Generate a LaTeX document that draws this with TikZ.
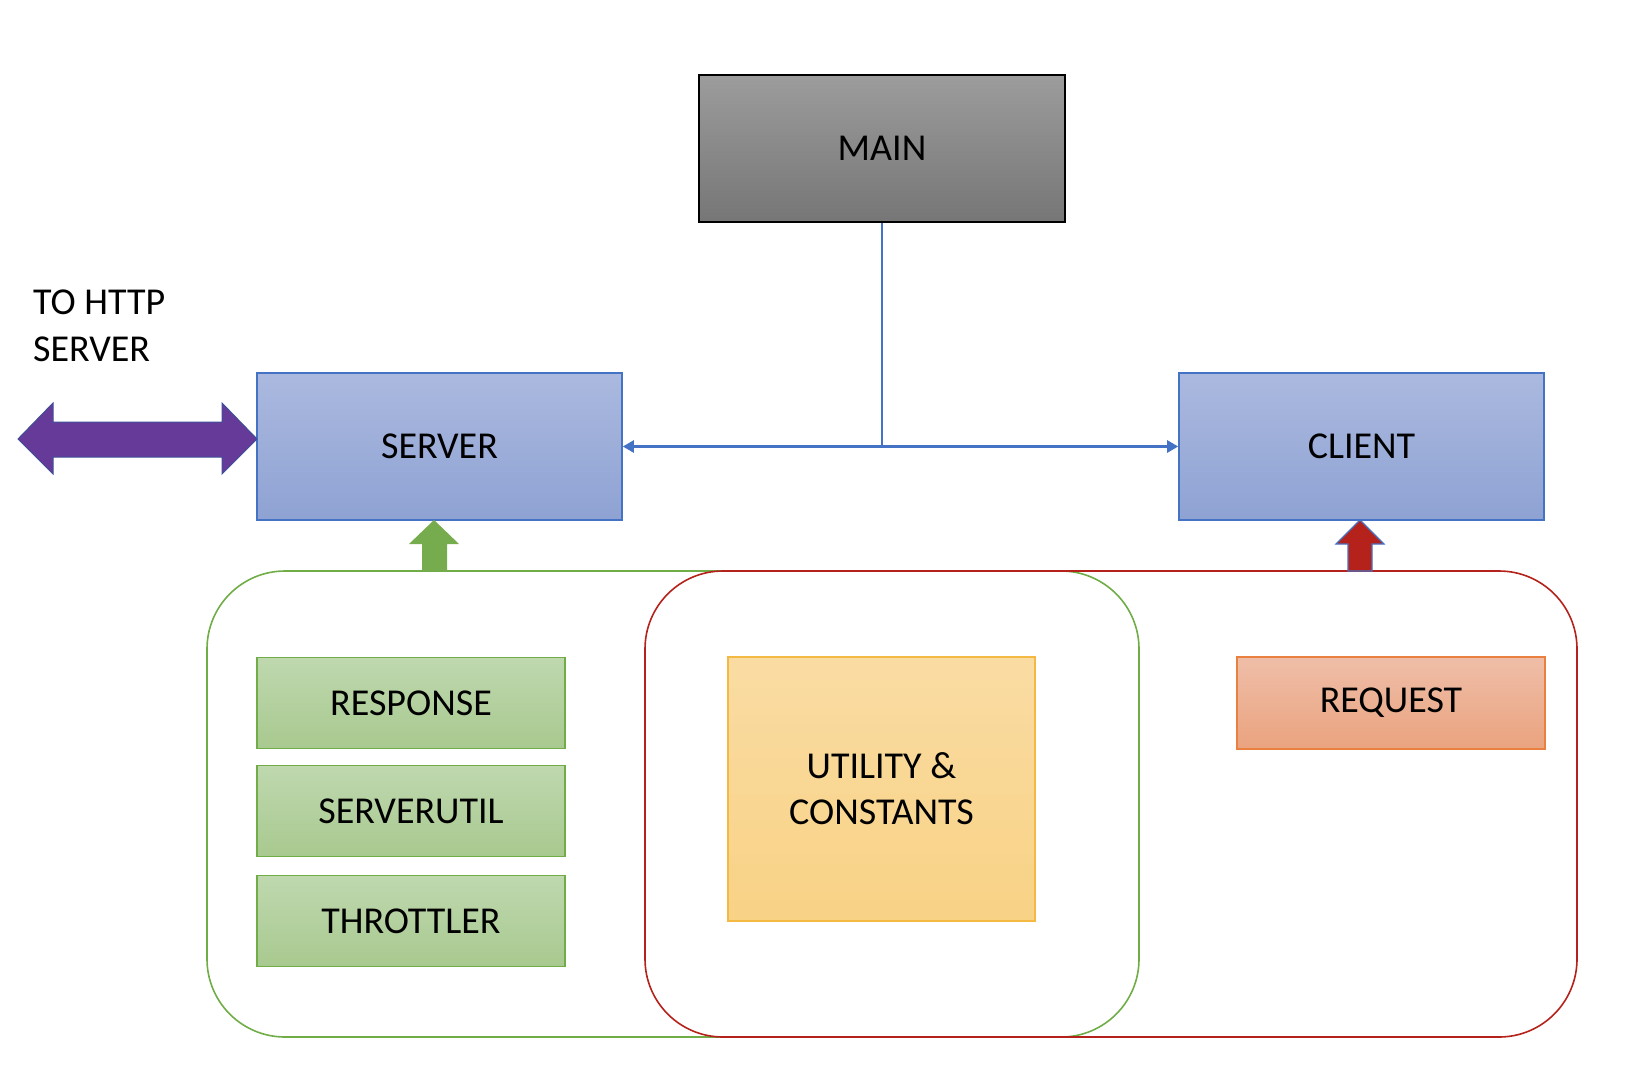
\documentclass[tikz,border=0pt]{standalone}
\usepackage{fontspec}
\setmainfont{Carlito}
\usetikzlibrary{arrows.meta}
\definecolor{bluebd}{HTML}{4472C4}
\definecolor{bluetop}{HTML}{ABB9DF}
\definecolor{bluebot}{HTML}{8EA2D3}
\definecolor{greytop}{HTML}{9C9C9C}
\definecolor{greybot}{HTML}{767676}
\definecolor{greenbd}{HTML}{70AD47}
\definecolor{greentop}{HTML}{BFD8AF}
\definecolor{greenbot}{HTML}{A8C98F}
\definecolor{yelbd}{HTML}{F4B942}
\definecolor{yeltop}{HTML}{FADCA3}
\definecolor{yelbot}{HTML}{F8D285}
\definecolor{orabd}{HTML}{E9803F}
\definecolor{oratop}{HTML}{EFBEA8}
\definecolor{orabot}{HTML}{EAA37F}
\definecolor{purp}{HTML}{663A99}
\definecolor{purpbd}{HTML}{3F4F97}
\definecolor{redbd}{HTML}{B5221B}
\definecolor{greenarr}{HTML}{76AB4E}
\begin{document}
\begin{tikzpicture}[x=1pt,y=-1pt,
  every node/.style={font=\fontsize{38}{46}\selectfont, text=black},
  box/.style={draw, line width=1.6pt, inner sep=0pt, shading angle=0},
  bluebox/.style={box, draw=bluebd, top color=bluetop, bottom color=bluebot, minimum width=365pt, minimum height=147pt},
  greenbox/.style={box, draw=greenbd, top color=greentop, bottom color=greenbot, minimum width=308pt, minimum height=91pt},
  conn/.style={draw=bluebd, line width=2.4pt},
  group/.style={line width=1.6pt, rounded corners=78pt}
]
\useasboundingbox (0,0) rectangle (1646,1066);
% group outlines
\draw[group, draw=greenbd] (207,571) rectangle (1139,1037);
\draw[group, draw=redbd] (645,571) rectangle (1577,1037);
% nodes
\node[box, draw=black, top color=greytop, bottom color=greybot, minimum width=366pt, minimum height=147pt] (main) at (882,148.5) {MAIN};
\node[bluebox] (server) at (439.5,446.5) {SERVER};
\node[bluebox] (client) at (1361.5,446.5) {CLIENT};
\node[greenbox] (response) at (411,703) {RESPONSE};
\node[greenbox] (serverutil) at (411,811) {SERVERUTIL};
\node[greenbox] (throttler) at (411,921) {THROTTLER};
\node[box, draw=yelbd, top color=yeltop, bottom color=yelbot, minimum width=307pt, minimum height=264pt, align=center] (utility) at (881.5,789) {UTILITY \&\\CONSTANTS};
\node[box, draw=orabd, top color=oratop, bottom color=orabot, minimum width=308pt, minimum height=92pt] (request) at (1391,703) {REQUEST};
\node[anchor=base west, align=left, inner sep=0pt, font=\fontsize{38}{47}\selectfont] (http) at (33,361) {TO HTTP\\SERVER};
% connectors
\coordinate (junc) at (main.south |- server.east);
\draw[conn] (main.south) -- (junc);
\draw[conn, -{Triangle[length=11pt,width=12pt]}] (junc) -- (server.east);
\draw[conn, -{Triangle[length=11pt,width=12pt]}] (junc) -- (client.west);
% purple double arrow
\draw[fill=purp, draw=purpbd, line width=1pt] (18,439) -- (53,403) -- (53,422) -- (222,422) -- (222,403) -- (257,439) -- (222,474) -- (222,457) -- (53,457) -- (53,474) -- cycle;
% green up arrow
\fill[greenarr] (434,520) -- (459,544) -- (447,544) -- (447,571) -- (422,571) -- (422,544) -- (409,544) -- cycle;
% red up arrow
\draw[fill=redbd, draw=bluebd, line width=1.2pt] (1360,520) -- (1384,544) -- (1372,544) -- (1372,571) -- (1348,571) -- (1348,544) -- (1336,544) -- cycle;
\end{tikzpicture}
\end{document}
